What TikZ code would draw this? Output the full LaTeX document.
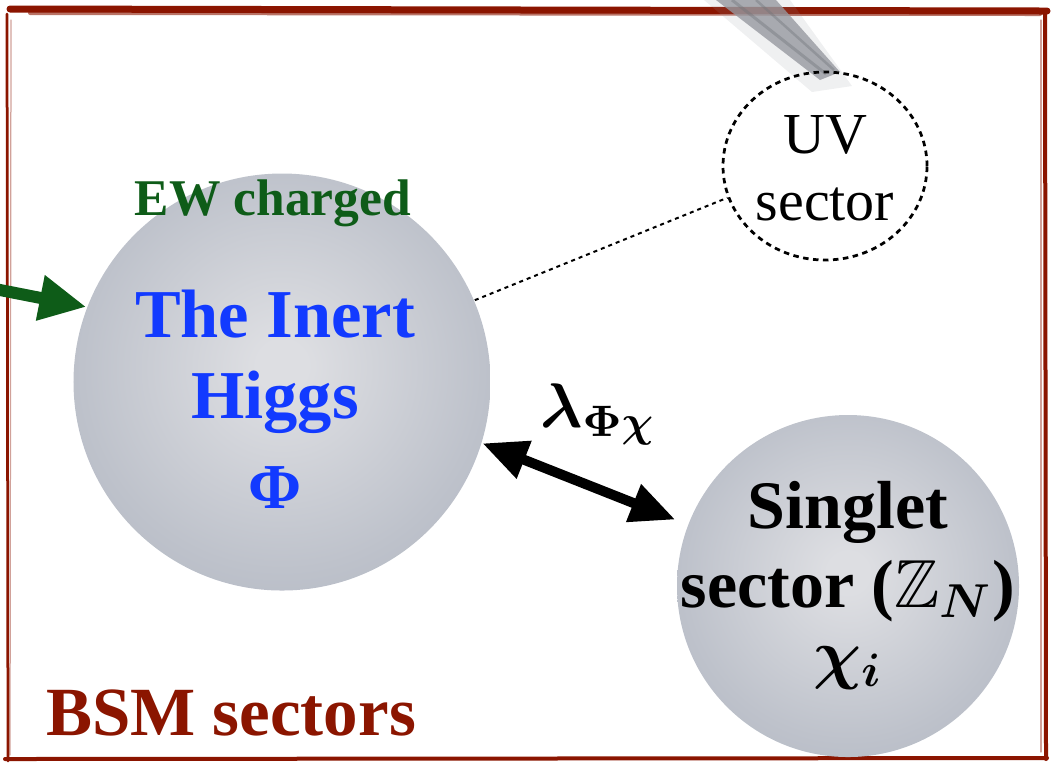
\RequirePackage{fix-cm}
\documentclass[tikz,border=0pt]{standalone}
\usepackage{amssymb}
\usepackage[no-math]{fontspec}
\setmainfont{Liberation Serif}
\usetikzlibrary{arrows.meta,shapes.geometric}
\definecolor{bsmred}{RGB}{139,21,0}
\definecolor{ewgreen}{RGB}{14,92,24}
\definecolor{higgsblue}{RGB}{18,58,255}
\definecolor{sphlight}{RGB}{221,222,226}
\definecolor{sphmid}{RGB}{190,194,203}
\definecolor{sphdark}{RGB}{158,165,180}
\definecolor{pencil}{RGB}{150,153,160}
\pgfdeclareradialshading{sph}{\pgfpoint{0bp}{2bp}}{color(0bp)=(sphlight); color(3bp)=(sphlight); color(24bp)=(sphmid); color(50bp)=(sphdark); color(100bp)=(sphdark)}
\newcommand{\myfs}[1]{\fontsize{#1}{#1}\selectfont}
\newcommand{\lamtext}{$\lambda_{\Phi\chi}$}
\newcommand{\zntext}{$\mathbb{Z}_N$}
\newcommand{\chitext}{$\chi_i$}
\tikzset{
  sphere/.style={circle, shading=sph, inner sep=0pt},
  txt/.style={anchor=base, inner sep=0pt},
  bsmframe/.style={draw=bsmred, line cap=round},
  uvline/.style={draw=black, line width=0.55pt, dash pattern=on 1.1pt off 0.9pt},
}
\begin{document}
\begin{tikzpicture}[x=0.2pt,y=-0.2pt]
\useasboundingbox (0,0) rectangle (1051,764);
% frame
\draw[bsmframe, line width=1.4pt] (10,9) -- (1047,11);
\draw[bsmframe, line width=0.8pt, opacity=.6] (30,13) -- (1040,14);
\draw[bsmframe, line width=0.55pt] (7,14) -- (8,761);
\draw[bsmframe, line width=0.25pt, opacity=.4] (11,20) -- (10,755);
\draw[bsmframe, line width=0.8pt] (1045,12) -- (1046,759);
\draw[bsmframe, line width=0.25pt, opacity=.4] (1041,20) -- (1041,752);
\draw[bsmframe, line width=0.8pt] (5,759) -- (1047,758);
% pencil stroke
\fill[pencil, opacity=.15] (704,0) -- (790,0) -- (852,86) -- (812,92) -- cycle;
\fill[pencil, opacity=.8] (716,0) -- (776,0) -- (840,72) -- (820,80) -- cycle;
\draw[pencil!75!black, line width=0.6pt, opacity=.4] (732,0) -- (826,74);
\draw[pencil!75!black, line width=0.5pt, opacity=.4] (756,0) -- (834,70);
% spheres
\node[sphere, minimum size=83.4pt] (higgs) at (282,382) {};
\node[sphere, minimum size=68.4pt] (singlet) at (848,586) {};
\node[ellipse, uvline, minimum width=40.8pt, minimum height=37.6pt, inner sep=0pt] (uv) at (825,166) {};
% texts
\node[txt, text=ewgreen, font=\bfseries\myfs{10.3pt}] (ew) at (273,215) {EW charged};
\node[txt, text=higgsblue, font=\bfseries\myfs{13.7pt}] (inert) at (275,337) {The Inert};
\node[txt, text=higgsblue, font=\bfseries\myfs{13.7pt}] (higgsname) at (275,418) {Higgs};
\node[txt, text=higgsblue, font=\bfseries\myfs{12.8pt}] (phi) at (275,508) {Φ};
\node[txt, font=\myfs{11.6pt}] (uv1) at (825,153) {UV};
\node[txt, font=\myfs{11.6pt}] (uv2) at (825,220) {sector};
\node[txt, font=\myfs{12.6pt}\boldmath] (lam) at (598,427) {\lamtext};
\node[txt, font=\bfseries\myfs{13.6pt}] (s1) at (848,528) {Singlet};
\node[txt, font=\bfseries\myfs{13.6pt}\boldmath] (s2) at (848,607) {sector (\zntext)};
\node[txt, font=\myfs{13.4pt}\boldmath] (s3) at (848,676) {\chitext};
\node[anchor=base west, inner sep=0pt, text=bsmred, font=\bfseries\myfs{13.8pt}] (bsm) at (45,735) {BSM sectors};
% connectors
\coordinate (gin) at (-5,289);
\draw[ewgreen, line width=2.4pt, -{Triangle[length=9.4pt, width=8.6pt]}] (gin) -- (higgs.159);
\draw[uvline, line width=0.4pt, dash pattern=on 0.8pt off 0.8pt] (higgs.23) -- (uv.198);
\draw[line width=2pt, {Triangle[length=9pt, width=7.6pt]}-{Triangle[length=9pt, width=7.6pt]}, shorten >=2.6pt] (higgs.-17) -- (singlet.159);
\end{tikzpicture}
\end{document}
